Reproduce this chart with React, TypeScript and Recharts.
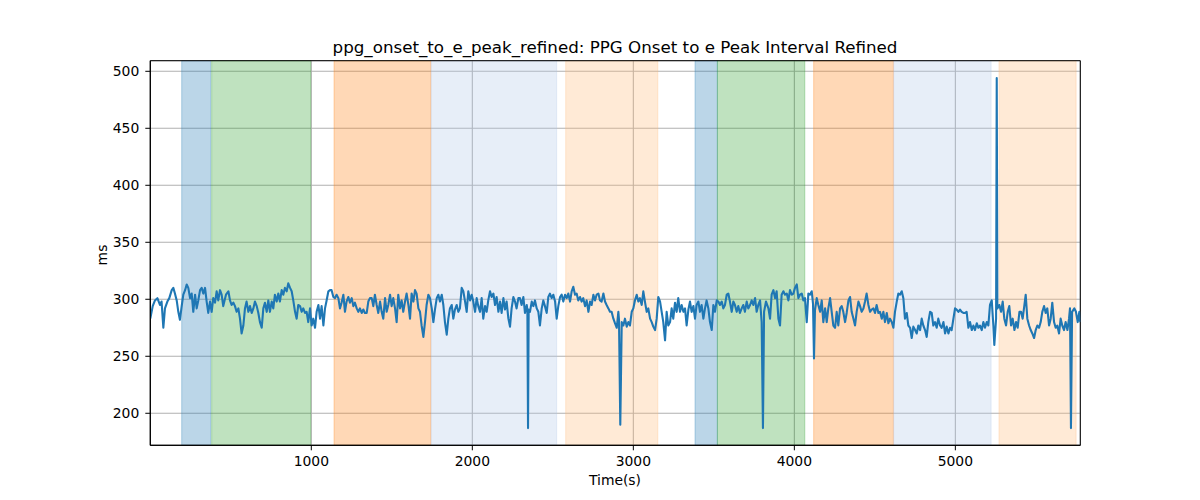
import React from "react";
import {
  LineChart,
  Line,
  XAxis,
  YAxis,
  CartesianGrid,
  ReferenceArea,
} from "recharts";

// sample times (s)
const timeS = [
  0, 15, 29, 44, 60, 70, 81, 91, 106, 118,
  133, 143, 153, 164, 174, 184, 195, 205, 216, 226,
  236, 247, 257, 267, 278, 288, 298, 309, 319, 329,
  340, 350, 360, 371, 381, 391, 402, 412, 422, 433,
  443, 453, 470, 485, 495, 505, 516, 526, 536, 547,
  557, 567, 578, 588, 598, 609, 619, 630, 640, 650,
  661, 671, 681, 692, 702, 712, 723, 733, 743, 754,
  764, 774, 785, 795, 805, 816, 826, 836, 847, 857,
  868, 878, 888, 899, 909, 919, 930, 940, 950, 961,
  971, 981, 992, 1002, 1012, 1023, 1033, 1044, 1054, 1064,
  1075, 1085, 1095, 1106, 1116, 1126, 1137, 1147, 1157, 1168,
  1178, 1188, 1199, 1209, 1219, 1230, 1240, 1251, 1261, 1271,
  1282, 1292, 1302, 1313, 1323, 1333, 1344, 1354, 1364, 1375,
  1385, 1395, 1406, 1416, 1427, 1437, 1447, 1458, 1468, 1478,
  1489, 1499, 1509, 1520, 1530, 1540, 1551, 1561, 1571, 1582,
  1592, 1603, 1613, 1623, 1634, 1644, 1654, 1665, 1675, 1685,
  1696, 1706, 1716, 1727, 1737, 1748, 1758, 1768, 1779, 1789,
  1799, 1810, 1820, 1830, 1841, 1851, 1861, 1872, 1882, 1892,
  1903, 1913, 1923,
  1934, 1944, 1955, 1965, 1975, 1986, 1996, 2006, 2017, 2027,
  2037, 2048, 2058, 2068, 2079, 2089, 2099, 2110, 2120, 2131,
  2141, 2151, 2162, 2172, 2182, 2193, 2203, 2213, 2224, 2234,
  2244, 2255, 2265, 2275, 2286, 2296, 2306, 2317, 2327, 2338,
  2342, 2346, 2350, 2358, 2369, 2379, 2389, 2400, 2410, 2420,
  2431, 2441, 2451, 2462, 2472, 2482, 2493, 2503, 2514, 2524,
  2534, 2545, 2555, 2565, 2576, 2586, 2596, 2607, 2617, 2627,
  2638, 2648, 2658, 2669, 2679, 2689, 2700, 2710, 2721, 2731,
  2741, 2752, 2762, 2772, 2783, 2793, 2803, 2814, 2824, 2834,
  2845, 2855, 2865, 2876, 2886, 2897, 2907, 2911, 2919, 2928,
  2938, 2948, 2959, 2969, 2979, 2990, 3000, 3010, 3021, 3031,
  3041, 3052, 3062, 3072, 3083, 3093, 3104, 3114, 3124, 3135,
  3145, 3155, 3166, 3176, 3186, 3197, 3207, 3217, 3228, 3238,
  3248, 3259, 3269, 3279, 3290, 3300, 3311, 3321, 3331, 3342,
  3352, 3362, 3373, 3383, 3393, 3404, 3414, 3424, 3435, 3445,
  3455, 3466, 3476, 3487, 3497, 3507, 3518, 3528, 3538, 3549,
  3559, 3569, 3580, 3590, 3600, 3611, 3621, 3631, 3642, 3652,
  3662, 3673, 3683, 3693, 3704, 3714, 3725, 3735, 3745, 3756,
  3766, 3776, 3787, 3797, 3805, 3812, 3824, 3839, 3849,
  3859, 3870, 3880, 3890, 3901, 3911, 3921, 3932, 3942, 3953,
  3963, 3973, 3984, 3994, 4004, 4015, 4025, 4035, 4046, 4056,
  4066, 4077, 4087, 4097, 4108, 4116, 4122, 4128, 4139, 4149,
  4160, 4170, 4180, 4191, 4201, 4211, 4222, 4232, 4242, 4253,
  4263, 4273, 4284, 4294, 4304, 4315, 4325, 4336, 4346, 4356,
  4367, 4377, 4387, 4398, 4408, 4418, 4429, 4439, 4449, 4460,
  4470, 4480, 4491, 4501, 4511, 4522, 4532, 4543, 4553, 4563,
  4574, 4584, 4594, 4605, 4615, 4625, 4636, 4646, 4656, 4667,
  4677, 4687, 4698, 4708, 4719, 4729, 4739, 4750, 4760, 4770,
  4781, 4791, 4801, 4812, 4822, 4832, 4843, 4853, 4863, 4874,
  4884, 4894, 4905, 4915, 4926, 4936, 4946, 4957, 4967, 4977,
  4988, 4998, 5008, 5019, 5029, 5039, 5050, 5060, 5070, 5081,
  5091, 5102, 5112, 5122, 5133, 5143, 5153, 5164, 5174, 5184,
  5195, 5205, 5215, 5226, 5236, 5242, 5253, 5257, 5261, 5273,
  5284, 5294, 5304, 5315, 5325, 5335, 5346, 5356, 5367, 5377,
  5387, 5398, 5408, 5418, 5429, 5437, 5447, 5458, 5468, 5478,
  5489, 5499, 5509, 5520, 5530, 5540, 5551, 5561, 5571, 5582,
  5592, 5602, 5613, 5623, 5633, 5644, 5654, 5664, 5675, 5685,
  5696, 5706, 5712, 5718, 5725, 5739, 5749, 5760, 5770, 5776,
];

// refined PPG onset to e-peak interval (ms)
const intervalMs = [
  283, 294, 299, 301, 295, 298, 275, 292, 298, 301,
  308, 310, 305, 299, 289, 282, 294, 304, 308, 313,
  310, 301, 305, 289, 304, 292, 299, 308, 310, 305,
  310, 298, 288, 298, 289, 301, 297, 307, 299, 308,
  304, 294, 304, 307, 299, 295, 297, 294, 289, 292,
  283, 270, 277, 292, 298, 289, 294, 288, 292, 298,
  294, 288, 280, 275, 292, 297, 289, 299, 289, 298,
  292, 304, 298, 305, 298, 308, 304, 310, 307, 314,
  310, 307, 299, 289, 283, 295, 294, 289, 292, 288,
  289, 280, 292, 277, 283, 275, 289, 295, 283, 294,
  277, 292, 299, 307, 308, 308, 302, 301, 304, 301,
  292, 297, 304, 289, 298, 302, 297, 301, 294, 297,
  292, 289, 292, 288, 291, 288, 288, 298, 301, 301,
  294, 304, 295, 288, 298, 289, 283, 301, 289, 295,
  304, 294, 301, 292, 280, 304, 292, 299, 289, 298,
  305, 295, 283, 305, 298, 308, 305, 292, 289, 277,
  267, 280, 295, 304, 301, 292, 280, 291, 301, 304,
  298, 304, 295, 280, 269, 283, 292, 295, 283, 291,
  295, 289, 292,
  310, 307, 298, 289, 307, 299, 304, 298, 289, 301,
  294, 289, 301, 283, 294, 289, 299, 307, 302, 305,
  295, 302, 289, 298, 288, 301, 291, 298, 283, 276,
  292, 302, 298, 292, 301, 301, 295, 302, 288, 295,
  290, 187, 291, 289, 298, 294, 299, 292, 289, 277,
  292, 299, 294, 288, 302, 305, 301, 304, 298, 283,
  294, 302, 304, 298, 304, 301, 305, 298, 307, 311,
  304, 305, 299, 302, 298, 301, 294, 299, 289, 298,
  295, 304, 299, 304, 305, 299, 298, 305, 298, 295,
  292, 289, 289, 283, 279, 275, 289, 282, 190, 280,
  277, 283, 276, 280, 277, 289, 292, 299, 304, 298,
  301, 295, 307, 298, 289, 292, 283, 280, 276, 273,
  283, 302, 298, 289, 280, 264, 289, 277, 280, 292,
  283, 297, 289, 301, 289, 295, 289, 292, 277, 291,
  298, 289, 294, 283, 295, 298, 289, 295, 283, 292,
  299, 292, 280, 273, 295, 289, 299, 298, 295, 298,
  292, 295, 304, 305, 298, 289, 298, 295, 289, 294,
  288, 292, 295, 289, 298, 292, 295, 299, 295, 301,
  289, 295, 299, 280, 187, 289, 298, 292, 283,
  304, 308, 301, 307, 283, 277, 304, 307, 304, 305,
  299, 308, 304, 305, 310, 313, 301, 304, 305, 299,
  301, 280, 305, 304, 307, 296, 248, 290, 301, 295,
  289, 299, 280, 292, 280, 292, 301, 289, 277, 275,
  289, 277, 292, 294, 289, 280, 288, 299, 302, 289,
  283, 277, 289, 298, 294, 289, 292, 298, 305, 295,
  289, 291, 292, 288, 295, 288, 289, 283, 289, 280,
  288, 279, 283, 280, 275, 289, 298, 305, 304, 307,
  301, 283, 288, 277, 275, 266, 276, 273, 270, 277,
  273, 283, 277, 273, 267, 280, 289, 288, 277, 280,
  275, 283, 277, 275, 280, 270, 276, 270, 275, 273,
  283, 292, 291, 289, 291, 289, 288, 288, 289, 275,
  280, 273, 277, 273, 279, 275, 277, 273, 280, 275,
  280, 277, 295, 299, 277, 260, 283, 494, 292, 295,
  289, 298, 283, 277, 289, 294, 277, 283, 273, 280,
  275, 289, 289, 283, 295, 304, 283, 277, 273, 270,
  266, 273, 277, 275, 280, 289, 294, 288, 292, 277,
  283, 297, 280, 275, 277, 270, 283, 277, 273, 280,
  273, 283, 292, 187, 289, 292, 289, 280, 289, 280,
];

// shaded recording phases
const bandStart = [195, 381, 1141, 1744, 2580, 3383, 3522, 4120, 4617, 5271];
const bandEnd = [375, 996, 1742, 2524, 3152, 3522, 4065, 4615, 5222, 5750];
const bandPhase = ["a", "b", "c", "d", "e", "a", "b", "c", "d", "e"];

const phaseColor: Record<string, string> = {
  a: "#1f77b4",
  b: "#2ca02c",
  c: "#ff7f0e",
  d: "#aec7e8",
  e: "#ffbb78",
};

const xTicks = [1000, 2000, 3000, 4000, 5000];
const yTicks = [200, 250, 300, 350, 400, 450, 500];

const data = timeS.map((t, i) => ({ t, v: intervalMs[i] }));

const X_MIN = 0;
const X_MAX = 5776;
const Y_MIN = 171.9;
const Y_MAX = 509.3;

const font = "'DejaVu Sans', sans-serif";

export default function App() {
  return (
    <div
      style={{
        position: "absolute",
        left: 0,
        top: 0,
        width: 1200,
        height: 500,
        background: "#fff",
        fontFamily: font,
      }}
    >
      <div
        style={{
          position: "absolute",
          left: 615,
          top: 39,
          transform: "translateX(-50%)",
          whiteSpace: "nowrap",
          fontSize: 16.7,
          lineHeight: 1,
          color: "#000",
        }}
      >
        ppg_onset_to_e_peak_refined: PPG Onset to e Peak Interval Refined
      </div>
      <div
        style={{
          position: "absolute",
          left: 615,
          top: 474,
          transform: "translateX(-50%)",
          whiteSpace: "nowrap",
          fontSize: 13.9,
          lineHeight: 1,
        }}
      >
        Time(s)
      </div>
      <div
        style={{
          position: "absolute",
          left: 103,
          top: 255,
          transform: "translate(-50%, -50%) rotate(-90deg)",
          whiteSpace: "nowrap",
          fontSize: 13.9,
          lineHeight: 1,
        }}
      >
        ms
      </div>
      <LineChart
        width={1200}
        height={500}
        data={data}
        margin={{ top: 60.7, right: 119.7, bottom: 24.7, left: 90.3 }}
      >
        <CartesianGrid stroke="#b0b0b0" strokeWidth={1.1} />
        {bandStart.map((s, i) => (
          <ReferenceArea
            key={i}
            x1={s}
            x2={bandEnd[i]}
            y1={Y_MIN}
            y2={Y_MAX}
            fill={phaseColor[bandPhase[i]]}
            fillOpacity={0.3}
            stroke={phaseColor[bandPhase[i]]}
            strokeOpacity={0.3}
            strokeWidth={1}
          />
        ))}
        <XAxis
          dataKey="t"
          type="number"
          domain={[X_MIN, X_MAX]}
          allowDataOverflow
          ticks={xTicks}
          height={30}
          tickSize={5}
          tickMargin={6}
          stroke="#000"
          tick={{ fill: "#000", fontSize: 13.9, fontFamily: font }}
        />
        <YAxis
          type="number"
          domain={[Y_MIN, Y_MAX]}
          allowDataOverflow
          ticks={yTicks}
          width={60}
          tickSize={5}
          tickMargin={6}
          stroke="#000"
          tick={{ fill: "#000", fontSize: 13.9, fontFamily: font }}
        />
        <Line
          dataKey="v"
          type="linear"
          stroke="#1f77b4"
          strokeWidth={2.1}
          strokeLinejoin="round"
          dot={false}
          activeDot={false}
          isAnimationActive={false}
        />
        <ReferenceArea
          x1={X_MIN}
          x2={X_MAX}
          y1={Y_MIN}
          y2={Y_MAX}
          fill="none"
          stroke="#000"
          strokeWidth={1}
        />
      </LineChart>
    </div>
  );
}
